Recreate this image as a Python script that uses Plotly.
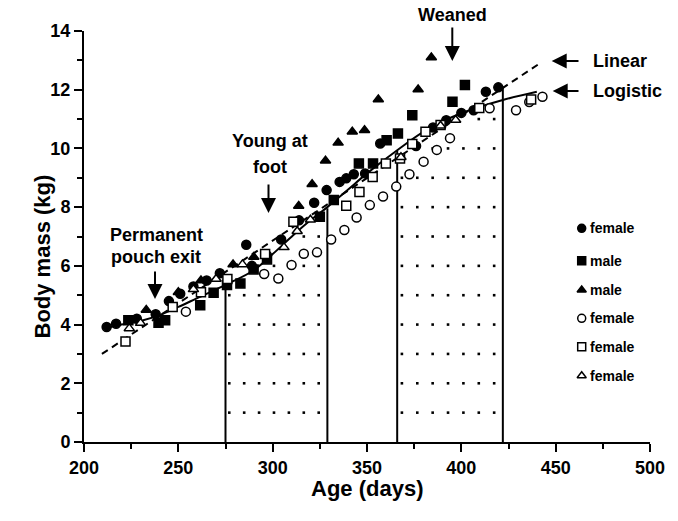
import plotly.graph_objects as go

# ---------------- data ----------------
# filled circle (female)
fc_x = [212, 217, 228, 238, 245, 251, 258, 265, 272, 286, 289, 297, 304.5, 314, 322, 328.6, 335.5, 339, 343, 349, 357, 376, 385, 392, 400, 406.5, 413, 419.6]
fc_y = [3.92, 4.03, 4.2, 4.35, 4.8, 5.05, 5.3, 5.5, 5.75, 6.72, 6.0, 6.35, 6.9, 7.55, 8.15, 8.58, 8.86, 8.98, 9.12, 9.15, 10.17, 10.08, 10.71, 10.96, 11.21, 11.3, 11.93, 12.08]
# filled square (male)
fs_x = [223.5, 239.5, 243, 261.6, 268.7, 275.8, 282.9, 289.9, 297, 325, 332.4, 345.7, 353.2, 360.4, 366.4, 374, 395.3, 401.9]
fs_y = [4.15, 4.06, 4.15, 4.66, 5.08, 5.35, 5.4, 5.88, 6.22, 7.67, 8.24, 9.49, 9.49, 10.28, 10.51, 11.13, 11.59, 12.16]
# filled triangle (male)
ft_x = [233, 250, 262, 279, 290, 313.8, 320.9, 328, 334.7, 342.2, 348.7, 356, 377.1, 384.1]
ft_y = [4.5, 5.1, 5.5, 6.05, 6.3, 8.04, 8.78, 9.58, 10.19, 10.57, 10.62, 11.67, 12.01, 13.1]
# open circle (female)
oc_x = [254, 295.5, 303, 310, 316.5, 323.5, 331, 338, 344.5, 351.5, 358.5, 365.5, 372.5, 380, 387, 394, 415, 429, 436, 443]
oc_y = [4.44, 5.72, 5.57, 6.03, 6.41, 6.46, 6.9, 7.22, 7.65, 8.07, 8.36, 8.7, 9.12, 9.55, 9.95, 10.35, 11.37, 11.3, 11.58, 11.76]
# open square (female)
os_x = [222, 247, 262, 276, 296, 311, 339, 346, 353, 360, 367.5, 374, 381, 389, 409.5, 437]
os_y = [3.42, 4.6, 5.1, 5.55, 6.4, 7.5, 8.05, 8.52, 9.03, 9.49, 9.66, 10.15, 10.57, 10.8, 11.38, 11.67]
# open triangle (female)
ot_x = [224, 230, 258, 270, 284, 306, 313, 320, 368, 389, 397]
ot_y = [3.87, 4.05, 5.2, 5.55, 6.05, 6.63, 7.18, 7.57, 9.7, 10.77, 10.97]

legend_labels = ["female", "male", "male", "female", "female", "female"]

# fitted curves
lin_x = [209.5, 440.5]
lin_y = [3.0, 12.85]
log_x = [211, 220, 230, 240, 250, 260, 275, 290, 300, 311, 320, 329, 340, 350, 366, 382, 400, 422, 440]
log_y = [3.88, 4.0, 4.12, 4.32, 4.6, 4.9, 5.35, 5.85, 6.4, 7.05, 7.55, 8.0, 8.6, 9.15, 9.94, 10.65, 11.2, 11.65, 11.93]

# developmental event ages and drop-line heights
event_x = [275, 329, 366, 422]
event_y = [5.4, 7.96, 9.94, 12.12]

# dotted shading (columns and number of dot rows)
dotsA_x = [277, 284.9, 292.8, 300.7, 308.6, 316.5, 324.4]
dotsA_n = [5, 5, 5, 6, 6, 7, 7]
dotsB_x = [368.5, 376.65, 384.8, 392.95, 401.1, 409.25, 417.4]
dotsB_n = [9, 9, 10, 10, 10, 11, 11]

# ---------------- layout geometry ----------------
W, H = 678, 521
L, R, T, B = 84, 28, 31, 79
PW, PH = W - L - R, H - T - B
FONT = "Liberation Sans, Arial, sans-serif"


def px2paper(px, py):
    return (px - L) / PW, (H - B - py) / PH


def px2data(px, py):
    return 200 + (px - L) / PW * 300, (H - B - py) / PH * 14


fig = go.Figure()

# dots
dx, dy = [], []
for cols, ns in ((dotsA_x, dotsA_n), (dotsB_x, dotsB_n)):
    for c, n in zip(cols, ns):
        for r in range(1, n + 1):
            dx.append(c)
            dy.append(r)
fig.add_trace(go.Scatter(x=dx, y=dy, mode="markers",
                         marker=dict(symbol="square", size=2.6, color="black"),
                         hoverinfo="skip", showlegend=False))

# vertical event lines
vx, vy = [], []
for a, h in zip(event_x, event_y):
    vx += [a, a, None]
    vy += [0, h, None]
fig.add_trace(go.Scatter(x=vx, y=vy, mode="lines",
                         line=dict(color="black", width=2), showlegend=False))

# curves
fig.add_trace(go.Scatter(x=lin_x, y=lin_y, mode="lines",
                         line=dict(color="black", width=2, dash="7px,5px"), showlegend=False))
fig.add_trace(go.Scatter(x=log_x, y=log_y, mode="lines", line_shape="spline",
                         line=dict(color="black", width=2), showlegend=False))

series = [
    (fc_x, fc_y, "circle", "black"),
    (fs_x, fs_y, "square", "black"),
    (ft_x, ft_y, "triangle-up", "black"),
    (oc_x, oc_y, "circle", "white"),
    (os_x, os_y, "square", "white"),
    (ot_x, ot_y, "triangle-up", "white"),
]
for (xs, ys, sym, fill), lab in zip(series, legend_labels):
    fig.add_trace(go.Scatter(x=xs, y=ys, mode="markers", name=lab,
                             marker=dict(symbol=sym, size=9, color=fill,
                                         line=dict(color="black", width=1.5)),
                             showlegend=False))

# manual legend
leg_rows = [228.3, 260.7, 290, 318.3, 346.7, 375.7]
annotations = []
for (xs, ys, sym, fill), lab, py in zip(series, legend_labels, leg_rows):
    mx, my = px2data(581.7, py)
    fig.add_trace(go.Scatter(x=[mx], y=[my], mode="markers",
                             marker=dict(symbol=sym, size=8, color=fill,
                                         line=dict(color="black", width=1.5)),
                             hoverinfo="skip", showlegend=False))
    xp, yp = px2paper(588, py)
    annotations.append(dict(x=xp, y=yp, xref="paper", yref="paper", text=f"<b>{lab}</b>",
                            showarrow=False, xanchor="left", yanchor="middle",
                            font=dict(family=FONT, size=14, color="black")))


def label(text, px, py, size=18, anchor="center"):
    xp, yp = px2paper(px, py)
    annotations.append(dict(x=xp, y=yp, xref="paper", yref="paper", text=f"<b>{text}</b>",
                            showarrow=False, xanchor=anchor, yanchor="middle",
                            font=dict(family=FONT, size=size, color="black")))


def arrow(tipx, tipy, tailx, taily):
    xp, yp = px2paper(tipx, tipy)
    annotations.append(dict(x=xp, y=yp, xref="paper", yref="paper", text="",
                            showarrow=True, arrowhead=2, arrowsize=1.5, arrowwidth=2,
                            arrowcolor="black", ax=tailx - tipx, ay=taily - tipy,
                            standoff=0, startstandoff=0))


label("Permanent", 156, 235)
label("pouch exit", 156, 257)
arrow(155, 299, 155, 270)
label("Young at", 270, 141)
label("foot", 270, 167)
arrow(268.5, 213, 268.5, 183)
label("Weaned", 452, 15)
arrow(452.3, 61, 452.3, 26)
label("Linear", 591, 61, anchor="left")
arrow(551.7, 61, 580, 61)
label("Logistic", 591, 91, anchor="left")
arrow(552.7, 91, 580, 91)

# axis titles
xp, yp = px2paper(27, 257)
annotations.append(dict(x=xp, y=yp, xref="paper", yref="paper", text="<b>Body mass (kg)</b>",
                        showarrow=False, textangle=-90,
                        font=dict(family=FONT, size=22, color="black")))
xp, yp = px2paper(367, 503)
annotations.append(dict(x=xp, y=yp, xref="paper", yref="paper", text="<b>Age (days)</b>",
                        showarrow=False, font=dict(family=FONT, size=22, color="black")))

fig.update_layout(
    width=W, height=H,
    margin=dict(l=L, r=R, t=T, b=B),
    paper_bgcolor="white", plot_bgcolor="white",
    showlegend=False,
    annotations=annotations,
    font=dict(family=FONT, color="black"),
    xaxis=dict(range=[200, 500], tickvals=[200, 250, 300, 350, 400, 450, 500],
               showgrid=False, zeroline=False, showline=True, linecolor="black", linewidth=2,
               ticks="outside", ticklen=8, tickwidth=2, tickcolor="black",
               tickfont=dict(family=FONT, size=18, color="black", weight="bold"),
               minor=dict(dtick=25, tick0=200, ticks="outside", ticklen=5, tickwidth=1.5,
                          tickcolor="black", showgrid=False)),
    yaxis=dict(range=[0, 14], tickvals=[0, 2, 4, 6, 8, 10, 12, 14],
               showgrid=False, zeroline=False, showline=True, linecolor="black", linewidth=2,
               ticks="outside", ticklen=8, tickwidth=2, tickcolor="black",
               tickfont=dict(family=FONT, size=18, color="black", weight="bold"),
               minor=dict(dtick=1, tick0=0, ticks="outside", ticklen=5, tickwidth=1.5,
                          tickcolor="black", showgrid=False)),
)

fig.write_html("out.html")
